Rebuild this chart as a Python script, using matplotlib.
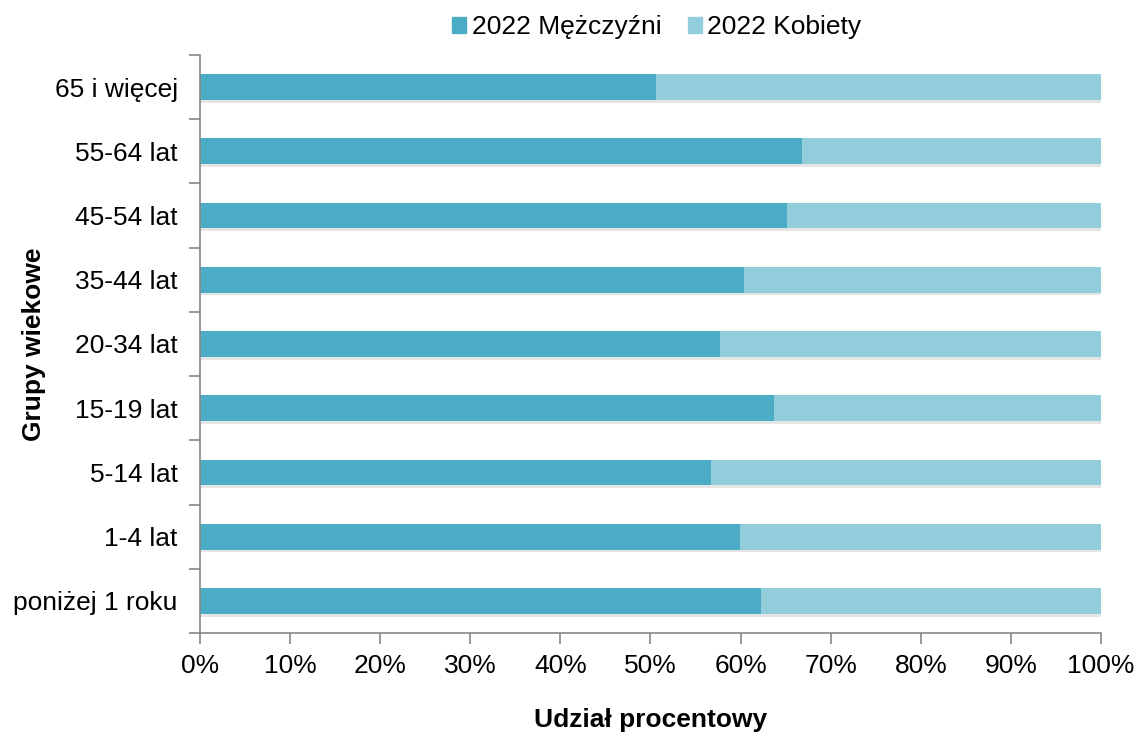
import matplotlib.pyplot as plt
import matplotlib.patheffects as pe
from matplotlib.patches import Patch
from matplotlib.ticker import PercentFormatter

plt.rcParams['font.family'] = ['Liberation Sans', 'DejaVu Sans']

# %% Donnees
grupy = ['poniżej 1 roku', '1-4 lat', '5-14 lat', '15-19 lat', '20-34 lat',
         '35-44 lat', '45-54 lat', '55-64 lat', '65 i więcej']
mezczyzni = [62.3, 59.9, 56.7, 63.7, 57.7, 60.4, 65.1, 66.8, 50.6]
kobiety = [100 - v for v in mezczyzni]

col_m = '#4BACC6'
col_k = '#92CDDC'
gris = '#868686'
fs = 19

# %% Figure
fig = plt.figure(figsize=(11.38, 7.33), dpi=100)
ax = fig.add_axes([0.1757, 0.1364, 0.7918, 0.7886])

ombre = [pe.withSimplePatchShadow(offset=(0, -2), shadow_rgbFace='#999999', alpha=0.25), pe.Normal()]
b1 = ax.barh(range(len(grupy)), mezczyzni, height=0.4, color=col_m)
b2 = ax.barh(range(len(grupy)), kobiety, left=mezczyzni, height=0.4, color=col_k)
for b in list(b1) + list(b2):
    b.set_path_effects(ombre)

ax.set_xlim(0, 100)
ax.set_ylim(-0.5, len(grupy) - 0.5)
ax.set_xticks(range(0, 101, 10))
ax.xaxis.set_major_formatter(PercentFormatter(decimals=0))
ax.set_yticks(range(len(grupy)))
ax.set_yticklabels(grupy)
ax.set_yticks([i - 0.5 for i in range(len(grupy) + 1)], minor=True)

ax.tick_params(axis='y', which='major', length=0, labelsize=fs, pad=16)
ax.tick_params(axis='y', which='minor', length=8, color=gris, width=1.2)
ax.tick_params(axis='x', which='major', length=8, color=gris, width=1.2, labelsize=fs, pad=7)

for s in ['top', 'right']:
    ax.spines[s].set_visible(False)
for s in ['left', 'bottom']:
    ax.spines[s].set_color(gris)
    ax.spines[s].set_linewidth(1.2)

ax.set_xlabel('Udział procentowy', fontsize=fs, fontweight='bold')
ax.set_ylabel('Grupy wiekowe', fontsize=fs, fontweight='bold')
ax.xaxis.set_label_coords(0.5, -0.129)
ax.yaxis.set_label_coords(-0.171, 0.5)

handles = [Patch(color=col_m, label='2022 Mężczyźni'), Patch(color=col_k, label='2022 Kobiety')]
fig.legend(handles=handles, loc='center', bbox_to_anchor=(0.577, 0.963), ncol=2, frameon=False,
           fontsize=fs, handlelength=0.55, handleheight=0.55, handletextpad=0.2, columnspacing=1.0)

fig.savefig('out.png', dpi=100)
